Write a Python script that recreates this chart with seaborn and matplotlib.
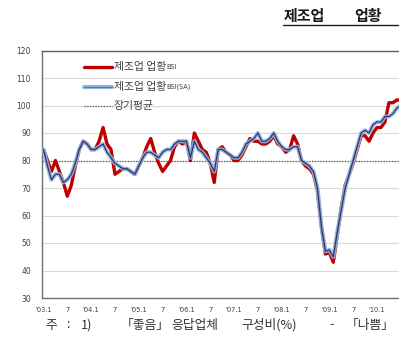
import matplotlib
matplotlib.use("Agg")
import matplotlib.pyplot as plt
from matplotlib.lines import Line2D
import seaborn as sns
import pandas as pd

# Monthly manufacturing business-conditions BSI, 2003.1 onward
months = list(range(91))
bsi = [84, 80, 76, 80, 76, 72, 67, 71, 78, 84, 87, 86,
       84, 84, 87, 92, 86, 84, 75, 76, 77, 77, 76, 75,
       78, 81, 85, 88, 83, 79, 76, 78, 80, 85, 87, 86,
       87, 80, 90, 87, 84, 83, 79, 72, 84, 85, 83, 82,
       80, 80, 82, 85, 88, 87, 87, 86, 86, 87, 89, 86,
       85, 83, 84, 89, 86, 80, 78, 77, 75, 69, 56, 46,
       46.5, 43, 53, 63, 71, 75, 79, 84, 89, 89, 87, 90,
       92, 92, 94, 101, 101, 102, 102]
bsi_sa = [84, 78, 73, 75, 75, 72, 73, 75, 79, 84, 87, 86,
          84, 84, 85, 86, 83, 81, 79, 78, 77, 77, 76, 75,
          78, 81, 83, 83, 82, 81, 83, 84, 84, 86, 87, 87,
          87, 81, 87, 84, 83, 81, 79, 76, 84, 84, 83, 82,
          81, 81, 83, 86, 87, 88, 90, 87, 87, 88, 90, 87,
          85, 84, 84, 85, 85, 80, 79, 78, 76, 70, 56, 47,
          47.5, 45, 54, 62, 70, 75, 80, 85, 90, 91, 90, 93,
          94, 94, 96, 96, 97, 99, 100]
long_run_avg = 80

y_ticks = [30, 40, 50, 60, 70, 80, 90, 100, 110, 120]
x_tick_pos = list(range(0, 85, 6))
x_tick_labels = ["'03.1", "7", "'04.1", "7", "'05.1", "7", "'06.1", "7",
                 "'07.1", "7", "'08.1", "7", "'09.1", "7", "'10.1"]

series_names = ["제조업 업황", "제조업 업황", "장기평균"]
series_suffix = ["BSI", "BSI(SA)", ""]

title_left = "제조업"
title_right = "업황"
note_parts = ["주", ":", "1)", "「좋음」", "응답업체", "구성비(%)", "-", "「나쁨」"]

df = pd.DataFrame({"month": months, "bsi": bsi, "bsi_sa": bsi_sa})

sns.set_theme(style="white")
plt.rcParams["font.family"] = ["Noto Sans CJK KR", "DejaVu Sans"]

W, H = 399, 342
fig = plt.figure(figsize=(W / 100, H / 100), dpi=100)
fig.patch.set_facecolor("white")

# axes in pixel terms: left 42, top 50.5, bottom 298; 3.97 px per month
x_left = -0.38
x_right = 95.0
px_per_month = 3.97
ax_w = (x_right - x_left) * px_per_month / W
ax = fig.add_axes([42 / W, (H - 298) / H, ax_w, 247.5 / H])
ax.set_facecolor("white")

RED = "#c00000"
LIGHT_BLUE = "#8fb6de"
NAVY = "#2c3470"
TXT = "#404040"

sns.lineplot(data=df, x="month", y="bsi", ax=ax, color=RED, lw=2.4, zorder=3)
sns.lineplot(data=df, x="month", y="bsi_sa", ax=ax, color=LIGHT_BLUE, lw=3.0,
             zorder=4, alpha=0.9)
sns.lineplot(data=df, x="month", y="bsi_sa", ax=ax, color=NAVY, lw=0.9, zorder=5)
ax.axhline(long_run_avg, color="#555555", lw=0.9, ls=(0, (1, 1.2)), zorder=2)

ax.set_xlim(x_left, x_right)
ax.set_ylim(30, 120)
ax.set_yticks(y_ticks)
ax.set_yticklabels([str(v) for v in y_ticks])
ax.set_xticks(x_tick_pos)
ax.set_xticklabels(x_tick_labels)
ax.set_xlabel("")
ax.set_ylabel("")

ax.grid(axis="y", color="#d9d9d9", lw=0.8)
ax.grid(axis="x", visible=False)
for side in ["left", "bottom", "top"]:
    ax.spines[side].set_visible(True)
    ax.spines[side].set_color("#707070")
    ax.spines[side].set_linewidth(1.0)
ax.spines["top"].set_color("#606060")
ax.spines["right"].set_visible(False)

ax.tick_params(axis="y", length=0, pad=8, labelsize=5.5, labelcolor=TXT)
ax.tick_params(axis="x", direction="inout", length=3, width=0.7, color="#707070",
               pad=5, labelsize=4.8, labelcolor=TXT)
for lab in ax.get_xticklabels() + ax.get_yticklabels():
    lab.set_family(["DejaVu Sans"])

# legend drawn as keys plus two-size labels
def ax_x(px):
    return (px - 42) / (ax_w * W)

def ax_y(py):
    return (298 - py) / 247.5

key_x0, key_x1 = ax_x(84), ax_x(112)
rows = [67, 86.5, 105.5]
ax.add_line(Line2D([key_x0, key_x1], [ax_y(rows[0])] * 2, transform=ax.transAxes,
                   color=RED, lw=2.4, zorder=6))
ax.add_line(Line2D([key_x0, key_x1], [ax_y(rows[1])] * 2, transform=ax.transAxes,
                   color=LIGHT_BLUE, lw=3.0, zorder=6))
ax.add_line(Line2D([key_x0, key_x1], [ax_y(rows[1])] * 2, transform=ax.transAxes,
                   color=NAVY, lw=0.8, zorder=7, alpha=0.5))
ax.add_line(Line2D([key_x0, key_x1], [ax_y(rows[2])] * 2, transform=ax.transAxes,
                   color="#555555", lw=0.9, ls=(0, (1, 1.2)), zorder=6))
for row, name, suffix in zip(rows, series_names, series_suffix):
    t = ax.text(ax_x(114), ax_y(row), name, transform=ax.transAxes,
                fontsize=7.8, color=TXT, va="center", ha="left")
    if suffix:
        ax.annotate(suffix, xy=(1, 0.18), xycoords=t, fontsize=4.8, color=TXT,
                    va="bottom", ha="left", family=["DejaVu Sans"])

# title, underlined, running up to the right edge
fig.text(284 / W, 1 - 15.5 / H, title_left, fontsize=10.8, fontweight="bold",
         color="#1a1a1a", va="center", ha="left")
fig.text(354 / W, 1 - 15.5 / H, title_right, fontsize=10.8, fontweight="bold",
         color="#1a1a1a", va="center", ha="left")
fig.add_artist(Line2D([283 / W, 1.0], [1 - 25 / H] * 2, transform=fig.transFigure,
                      color="#1a1a1a", lw=1.0))

# footnote
note_x = [45, 66, 81, 121, 171, 241, 329, 346]
for px, part in zip(note_x, note_parts):
    fig.text(px / W, 1 - 325 / H, part, fontsize=9.2, color="#333333",
             va="center", ha="left")

fig.savefig("out.png", dpi=100)
